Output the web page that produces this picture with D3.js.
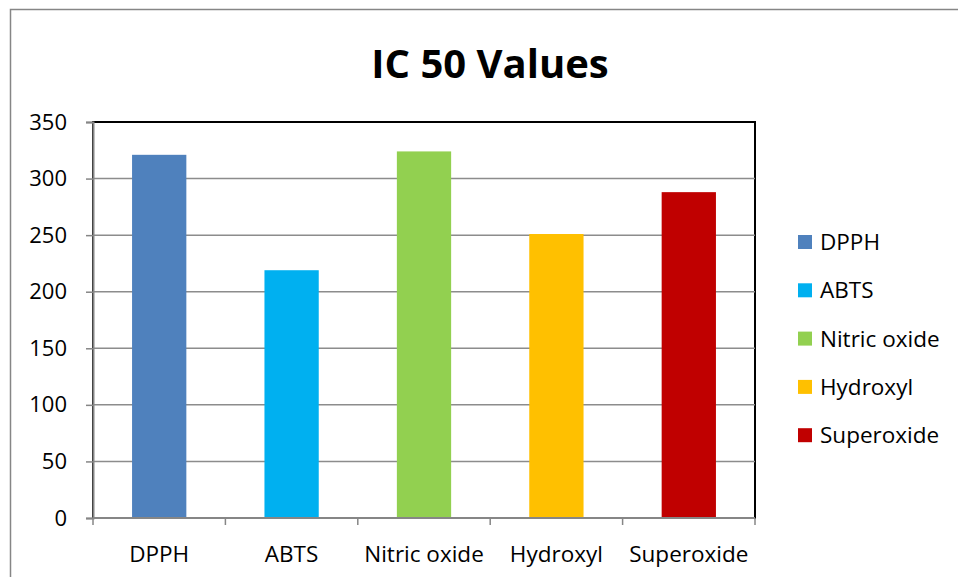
<!DOCTYPE html>
<html>
<head>
<meta charset="utf-8">
<script src="https://cdn.jsdelivr.net/npm/d3@7"></script>
<style>
  body { margin: 0; background: #fff; }
  text { font-family: "Open Sans", sans-serif; fill: #000; }
</style>
</head>
<body>
<script>
// data
var categories = ['DPPH', 'ABTS', 'Nitric oxide', 'Hydroxyl', 'Superoxide'];
var values = [321, 219, 324, 251, 288];
var colors = ['#4f81bd', '#00b0f0', '#92d050', '#ffc000', '#c00000'];
var yTicks = [0, 50, 100, 150, 200, 250, 300, 350];

var width = 958;
var height = 577;
var plot = { left: 93, top: 122, right: 755, bottom: 518 };

var svg = d3.select('body').append('svg')
            .attr('width', width)
            .attr('height', height);

// outer chart border
svg.append('rect')
   .attr('x', 10.5).attr('y', 9.5)
   .attr('width', 960).attr('height', 600)
   .attr('fill', 'none')
   .attr('stroke', '#868686')
   .attr('stroke-width', 1.5);

svg.append('text')
   .attr('x', 490).attr('y', 78)
   .attr('text-anchor', 'middle')
   .style('font-size', '40px')
   .style('font-weight', 'bold')
   .text('IC 50 Values');

var x = d3.scaleBand()
          .domain(categories)
          .range([plot.left, plot.right])
          .paddingInner(0.59)
          .paddingOuter(0.295);

var xb = d3.scaleBand()
           .domain(categories)
           .range([plot.left, plot.right]);

var y = d3.scaleLinear()
          .domain([0, 350])
          .range([plot.bottom, plot.top]);

// plot area frame
svg.append('rect')
   .attr('x', plot.left).attr('y', plot.top)
   .attr('width', plot.right - plot.left)
   .attr('height', plot.bottom - plot.top)
   .attr('fill', 'none')
   .attr('stroke', '#000')
   .attr('stroke-width', 2);

// gridlines
svg.append('g')
   .selectAll('line')
   .data(yTicks.slice(1, -1))
   .enter().append('line')
   .attr('x1', plot.left).attr('x2', plot.right)
   .attr('y1', function(d){ return y(d); })
   .attr('y2', function(d){ return y(d); })
   .attr('stroke', '#8c8c8c')
   .attr('stroke-width', 1.5);

// bars
svg.append('g')
   .selectAll('rect')
   .data(values)
   .enter().append('rect')
   .attr('x', function(d, i){ return x(categories[i]); })
   .attr('y', function(d){ return y(d); })
   .attr('width', x.bandwidth())
   .attr('height', function(d){ return y(0) - y(d); })
   .attr('fill', function(d, i){ return colors[i]; });

// y axis
var yAxis = svg.append('g')
   .attr('transform', 'translate(' + plot.left + ',0)')
   .call(d3.axisLeft(y).tickValues(yTicks).tickSize(7).tickPadding(19));
yAxis.select('.domain').attr('stroke', '#868686').attr('stroke-width', 2);
yAxis.selectAll('.tick line').attr('stroke', '#868686').attr('stroke-width', 1.5);
yAxis.selectAll('.tick text').style('font-size', '22px').style('font-family', '"Open Sans", sans-serif');

// x axis with ticks at category boundaries
var xAxis = svg.append('g')
   .attr('transform', 'translate(0,' + plot.bottom + ')');
xAxis.append('line')
   .attr('x1', plot.left).attr('x2', plot.right)
   .attr('stroke', '#868686').attr('stroke-width', 2);
xAxis.selectAll('line.tk')
   .data(categories.concat(['end']))
   .enter().append('line')
   .attr('class', 'tk')
   .attr('x1', function(d, i){ return i < categories.length ? xb(d) : plot.right; })
   .attr('x2', function(d, i){ return i < categories.length ? xb(d) : plot.right; })
   .attr('y1', 0).attr('y2', 7)
   .attr('stroke', '#868686').attr('stroke-width', 1.5);
xAxis.selectAll('text')
   .data(categories)
   .enter().append('text')
   .attr('x', function(d){ return xb(d) + xb.bandwidth() / 2; })
   .attr('y', 44)
   .attr('text-anchor', 'middle')
   .style('font-size', '22.5px')
   .text(function(d){ return d; });

// legend
var legend = svg.append('g')
   .selectAll('g')
   .data(categories)
   .enter().append('g')
   .attr('transform', function(d, i){ return 'translate(798,' + (242 + i * 48.3) + ')'; });
legend.append('rect')
   .attr('x', 0).attr('y', -7)
   .attr('width', 14).attr('height', 14)
   .attr('fill', function(d, i){ return colors[i]; });
legend.append('text')
   .attr('x', 22).attr('y', 8)
   .style('font-size', '22.5px')
   .text(function(d){ return d; });
</script>
</body>
</html>
